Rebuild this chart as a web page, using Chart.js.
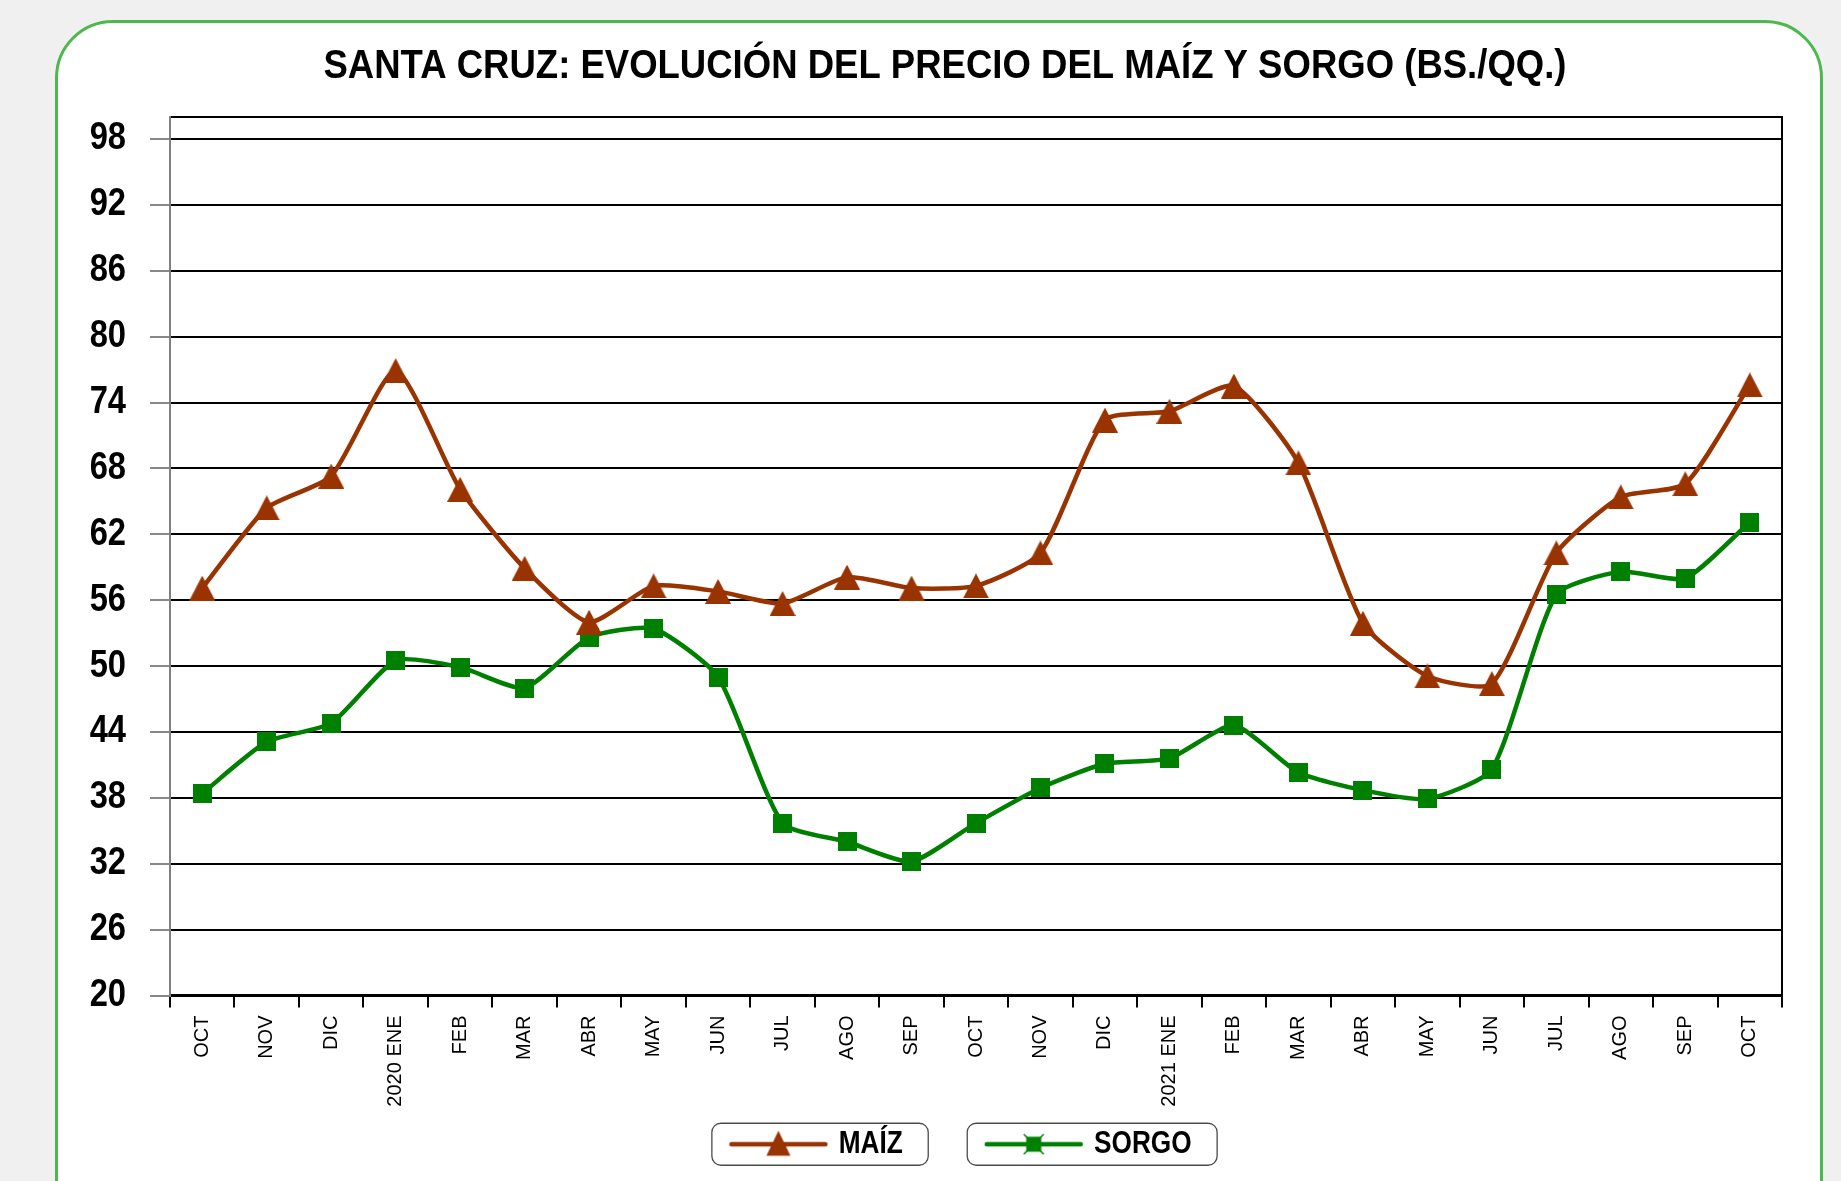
<!DOCTYPE html>
<html>
<head>
<meta charset="utf-8">
<script src="https://cdn.jsdelivr.net/npm/chart.js@4.4.0/dist/chart.umd.min.js"></script>
<style>
html, body { margin:0; padding:0; background:#f0f0f0; overflow:hidden; width:1841px; height:1181px; }
#panel { position:absolute; left:55px; top:20px; width:1768px; height:1230px; background:#ffffff;
         border:3px solid #4db84d; border-radius:58px; box-sizing:border-box; }
#wrap { position:absolute; left:60px; top:0px; width:1770px; height:1181px; }
</style>
</head>
<body>
<div id="panel"></div>
<div id="wrap"><canvas id="c" width="1770" height="1181"></canvas></div>
<script>
// ---- data ----
const categories = ['OCT','NOV','DIC','2020 ENE','FEB','MAR','ABR','MAY','JUN','JUL','AGO','SEP',
                    'OCT','NOV','DIC','2021 ENE','FEB','MAR','ABR','MAY','JUN','JUL','AGO','SEP','OCT'];
const maizValues  = [57.1, 64.4, 67.3, 76.9, 66.1, 58.9, 54.0, 57.3, 56.8, 55.7, 58.1, 57.1,
                     57.3, 60.3, 72.4, 73.2, 75.5, 68.5, 53.9, 49.1, 48.4, 60.3, 65.4, 66.6, 75.6];
const sorgoValues = [38.4, 43.1, 44.8, 50.5, 49.9, 48.0, 52.6, 53.4, 49.0, 35.7, 34.0, 32.2,
                     35.7, 38.9, 41.1, 41.6, 44.6, 40.3, 38.7, 37.9, 40.6, 56.5, 58.6, 58.0, 63.1];
const yTickValues = [20, 26, 32, 38, 44, 50, 56, 62, 68, 74, 80, 86, 92, 98];
const yMin = 20, yMax = 100;
const seriesNames = ['MAÍZ', 'SORGO'];
const titleText = 'SANTA CRUZ: EVOLUCIÓN DEL PRECIO DEL MAÍZ Y SORGO (BS./QQ.)';

// ---- styles ----
const MAIZ_COLOR = '#993300';
const SORGO_COLOR = '#008000';
// "SimNarrowNN" is not a real font: it marks text drawn horizontally condensed to NN %
// (emulating Arial Narrow, which is not installed) on top of Liberation Sans.
const narrow = (pct) => '"SimNarrow' + pct + '", "Liberation Sans", Arial, sans-serif';
const REGULAR = '"Liberation Sans", Arial, sans-serif';
(function () {
  const P = CanvasRenderingContext2D.prototype;
  const fill = P.fillText, measure = P.measureText;
  const factor = (ctx) => { const m = /SimNarrow(\d+)/.exec(ctx.font); return m ? (+m[1]) / 100 : 0; };
  P.fillText = function (text, x, y, maxWidth) {
    const sx = factor(this);
    if (!sx) return fill.apply(this, arguments);
    this.save(); this.translate(x, y); this.scale(sx, 1);
    if (maxWidth === undefined) fill.call(this, text, 0, 0); else fill.call(this, text, 0, 0, maxWidth / sx);
    this.restore();
  };
  P.measureText = function (text) {
    const m = measure.call(this, text);
    const sx = factor(this);
    if (!sx) return m;
    return { width: m.width * sx,
             actualBoundingBoxLeft: m.actualBoundingBoxLeft * sx, actualBoundingBoxRight: m.actualBoundingBoxRight * sx,
             actualBoundingBoxAscent: m.actualBoundingBoxAscent, actualBoundingBoxDescent: m.actualBoundingBoxDescent,
             fontBoundingBoxAscent: m.fontBoundingBoxAscent, fontBoundingBoxDescent: m.fontBoundingBoxDescent };
  };
})();

function makeCanvas(w, h) { const c = document.createElement('canvas'); c.width = w; c.height = h; return c; }
function drawTri(ctx, cx, cy, w, h, color) {
  ctx.fillStyle = color; ctx.beginPath();
  ctx.moveTo(cx, cy - h / 2); ctx.lineTo(cx + w / 2, cy + h / 2); ctx.lineTo(cx - w / 2, cy + h / 2);
  ctx.closePath(); ctx.fill();
}
function drawSq(ctx, cx, cy, s, color) { ctx.fillStyle = color; ctx.fillRect(cx - s / 2, cy - s / 2, s, s); }

const triMarker = makeCanvas(26, 25); drawTri(triMarker.getContext('2d'), 13, 12.5, 26, 25, MAIZ_COLOR);
const sqMarker = makeCanvas(19, 19); drawSq(sqMarker.getContext('2d'), 9.5, 9.5, 19, SORGO_COLOR);

// legend sample: blank area on the left (LEG_BLANK), then a 100px line with its marker
const LEG_BLANK = 70, LEG_PAD = 16, LEG_FONT = 30.5;
function legendImg(kind, color) {
  const c = makeCanvas(LEG_BLANK + 100, 30); const x = c.getContext('2d');
  const x0 = LEG_BLANK, mid = LEG_BLANK + 50;
  x.strokeStyle = color; x.lineWidth = 4.5; x.lineCap = 'round';
  x.beginPath(); x.moveTo(x0 + 3, 15); x.lineTo(x0 + 97, 15); x.stroke();
  if (kind === 'tri') drawTri(x, mid, 14, 24, 25, color);
  else {
    drawSq(x, mid, 15, 15, color);
    x.lineWidth = 1.6; x.lineCap = 'butt';
    [[-1,-1],[1,-1],[1,1],[-1,1]].forEach(([dx, dy]) => {
      x.beginPath(); x.moveTo(mid + dx * 6, 15 + dy * 6); x.lineTo(mid + dx * 10, 15 + dy * 10); x.stroke();
    });
  }
  return c;
}
const legendImgs = [legendImg('tri', MAIZ_COLOR), legendImg('sq', SORGO_COLOR)];

const legendBoxes = {
  id: 'legendBoxes',
  afterUpdate(chart) {
    const lg = chart.legend; if (!lg || !lg.legendHitBoxes || !lg.legendHitBoxes.length) return;
    const hbs = lg.legendHitBoxes, last = hbs[hbs.length - 1];
    const visL = hbs[0].left + LEG_BLANK - 5, visR = last.left + last.width;
    const dx = 900 - (visL + visR) / 2;
    lg.left += dx; lg.right += dx;
    hbs.forEach(hb => { hb.left += dx; });
  },
  afterDraw(chart) {
    const lg = chart.legend; if (!lg || !lg.legendHitBoxes) return;
    const ctx = chart.ctx; ctx.save();
    ctx.strokeStyle = '#4a4a4a'; ctx.lineWidth = 1.3;
    lg.legendHitBoxes.forEach(hb => {
      const cy = hb.top + hb.height / 2;
      const x0 = hb.left + LEG_BLANK - 22, x1 = hb.left + hb.width + 25;
      ctx.beginPath(); ctx.roundRect(x0 + 0.5, cy - 21, x1 - x0, 42, 9); ctx.stroke();
    });
    ctx.restore();
  }
};

Chart.defaults.font.family = REGULAR;
Chart.defaults.color = '#000';

new Chart(document.getElementById('c'), {
  type: 'line',
  data: {
    labels: categories,
    datasets: [
      { label: seriesNames[0], data: maizValues, borderColor: MAIZ_COLOR, backgroundColor: MAIZ_COLOR,
        borderWidth: 4.5, pointStyle: triMarker, pointRadius: 12, tension: 0.2, yAxisID: 'y' },
      { label: seriesNames[1], data: sorgoValues, borderColor: SORGO_COLOR, backgroundColor: SORGO_COLOR,
        borderWidth: 4.5, pointStyle: sqMarker, pointRadius: 10, tension: 0.2, yAxisID: 'y' }
    ]
  },
  options: {
    responsive: false,
    animation: false,
    devicePixelRatio: 1,
    layout: { padding: { left: 0, right: 0, top: 0, bottom: 11.5 } },
    plugins: {
      tooltip: { enabled: false },
      title: {
        display: true, text: titleText, color: '#000',
        font: { family: narrow(88), weight: 'bold', size: 41.5, lineHeight: 1.2 },
        padding: { top: 42.1, bottom: 25.1 }
      },
      legend: {
        position: 'bottom',
        labels: {
          usePointStyle: true, pointStyleWidth: LEG_BLANK + 90, padding: LEG_PAD,
          font: { family: narrow(86), weight: 'bold', size: LEG_FONT }, color: '#000',
          generateLabels(chart) {
            const items = Chart.defaults.plugins.legend.labels.generateLabels(chart);
            items.forEach((it, i) => { it.pointStyle = legendImgs[i]; });
            return items;
          }
        }
      }
    },
    scales: {
      x: {
        position: 'bottom',
        offset: true,
        grid: { display: true, drawOnChartArea: false, offset: true, tickLength: 12, color: '#000', lineWidth: 2 },
        border: { display: true, color: '#000', width: 3 },
        ticks: { autoSkip: false, minRotation: 90, maxRotation: 90, padding: 8, color: '#000',
                 font: { family: REGULAR, size: 20 } },
        afterFit(scale) { scale.height = 117.5; }
      },
      y: {
        position: 'left',
        min: yMin, max: yMax,
        afterBuildTicks(scale) { scale.ticks = yTickValues.concat([yMax]).map(v => ({ value: v })); },
        grid: { color: '#000', lineWidth: 2, tickLength: 20,
                tickColor: (c) => (c.tick && c.tick.value === yMax) ? 'rgba(0,0,0,0)' : '#888888', tickWidth: 2 },
        border: { display: true, color: '#808080', width: 2 },
        ticks: { padding: 24, color: '#000', font: { family: narrow(86), weight: 'bold', size: 38 },
                 callback: (v) => (v === yMax ? '' : String(v)) },
        afterFit(scale) { scale.width = 110; }
      },
      yr: {
        position: 'right',
        min: yMin, max: yMax,
        grid: { drawOnChartArea: false, drawTicks: false },
        border: { display: true, color: '#000', width: 2 },
        ticks: { display: false },
        afterFit(scale) { scale.width = 48; }
      }
    }
  },
  plugins: [legendBoxes]
});
</script>
</body>
</html>
